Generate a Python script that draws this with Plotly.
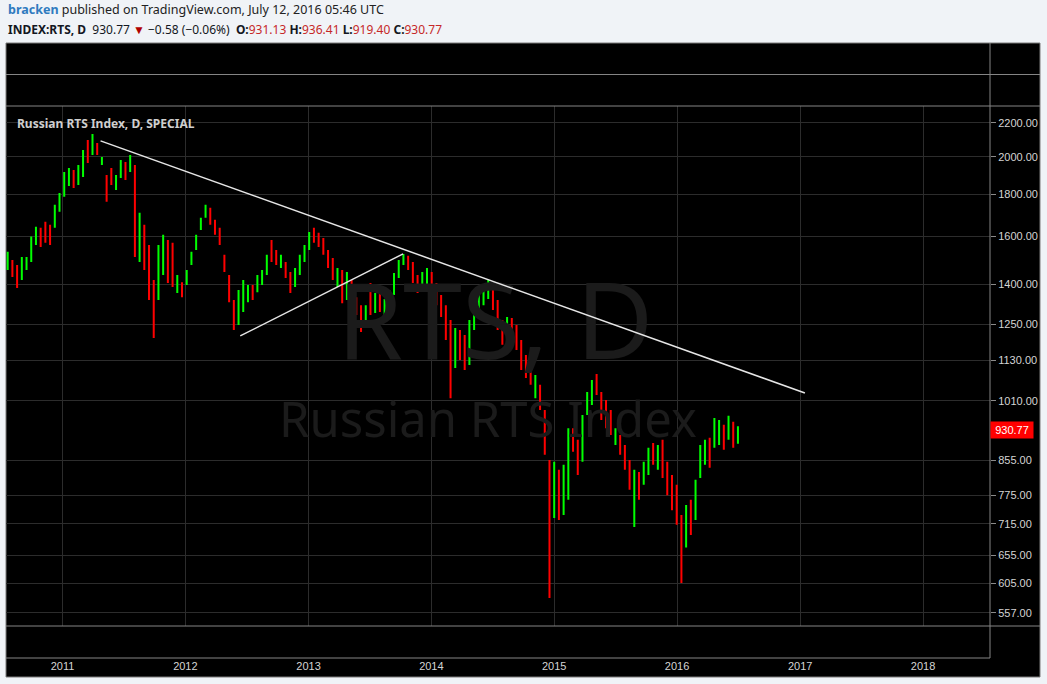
import math
import pandas as pd
import plotly.graph_objects as go

# ---------------- data ----------------
bar_start = "2010-07-22"
bar_step = "14D"

opens = [1475, 1485, 1457, 1440, 1469, 1516, 1581, 1621, 1649, 1635,
         1668, 1739, 1823, 1864, 1912, 1875, 1928, 2068, 2039, 2068,
         1966, 1875, 1917, 1838, 1906, 1950, 1939, 1939, 1541, 1630,
         1541, 1377, 1377, 1477, 1563, 1541, 1381, 1397, 1408, 1490,
         1559, 1645, 1701, 1720, 1663, 1626, 1507, 1416, 1320, 1273,
         1320, 1346, 1385, 1385, 1408, 1457, 1567, 1529, 1477, 1477,
         1432, 1405, 1457, 1507, 1559, 1626, 1603, 1581, 1524, 1490,
         1405, 1432, 1362, 1397, 1339, 1302, 1270, 1377, 1305, 1354,
         1298, 1305, 1377, 1440, 1490, 1503, 1473, 1420, 1393, 1412,
         1432, 1389, 1343, 1295, 1231, 1132, 1211, 1191, 1148, 1256,
         1313, 1339, 1366, 1377, 1316, 1249, 1224, 1259, 1231, 1177,
         1132, 1104, 1035, 1041, 962, 832, 743, 813, 754, 798,
         922, 892, 868, 984, 1012, 1076, 1020, 998, 970, 902,
         907, 880, 841, 739, 815, 809, 834, 887, 844, 887,
         837, 804, 783, 713, 684, 750, 739, 832, 855, 897,
         900, 905, 930, 917, 938, 905]

highs = [1533, 1498, 1477, 1511, 1511, 1600, 1645, 1640, 1668, 1654,
         1749, 1808, 1917, 1939, 1928, 1955, 2039, 2097, 2133, 2080,
         2000, 1901, 1939, 1901, 1983, 1972, 2011, 1955, 1710, 1654,
         1563, 1416, 1563, 1608, 1585, 1572, 1436, 1408, 1457, 1533,
         1608, 1687, 1749, 1735, 1677, 1640, 1520, 1436, 1339, 1377,
         1416, 1397, 1397, 1436, 1457, 1520, 1585, 1541, 1520, 1490,
         1449, 1465, 1520, 1563, 1621, 1640, 1617, 1594, 1541, 1507,
         1465, 1457, 1449, 1416, 1350, 1320, 1320, 1405, 1366, 1369,
         1343, 1377, 1445, 1498, 1524, 1516, 1490, 1436, 1449, 1465,
         1449, 1405, 1358, 1320, 1266, 1238, 1231, 1214, 1266, 1339,
         1377, 1397, 1416, 1397, 1339, 1266, 1277, 1273, 1249, 1197,
         1148, 1116, 1085, 1056, 984, 855, 851, 832, 844, 935,
         935, 905, 970, 1035, 1070, 1088, 1035, 1012, 984, 935,
         917, 892, 855, 832, 827, 851, 885, 897, 892, 905,
         851, 820, 798, 733, 754, 765, 809, 892, 905, 910,
         962, 957, 944, 968, 952, 940]

lows = [1457, 1428, 1385, 1416, 1457, 1490, 1563, 1554, 1572, 1563,
        1640, 1715, 1789, 1844, 1833, 1849, 1891, 1966, 2011, 2011,
        1955, 1764, 1849, 1823, 1886, 1875, 1917, 1511, 1490, 1457,
        1339, 1204, 1339, 1436, 1405, 1389, 1366, 1350, 1397, 1477,
        1541, 1630, 1687, 1654, 1608, 1563, 1449, 1331, 1231, 1249,
        1295, 1331, 1339, 1369, 1397, 1436, 1490, 1477, 1465, 1424,
        1366, 1389, 1436, 1490, 1541, 1572, 1554, 1520, 1465, 1416,
        1389, 1327, 1339, 1320, 1284, 1224, 1256, 1284, 1291, 1295,
        1284, 1284, 1358, 1424, 1477, 1457, 1405, 1366, 1377, 1397,
        1369, 1320, 1277, 1197, 1017, 1107, 1132, 1101, 1116, 1231,
        1295, 1320, 1343, 1302, 1231, 1181, 1207, 1197, 1164, 1101,
        1076, 1056, 1017, 984, 868, 581, 727, 723, 733, 765,
        875, 820, 851, 970, 998, 1026, 957, 935, 917, 892,
        868, 832, 787, 709, 765, 798, 820, 844, 832, 813,
        775, 743, 713, 606, 669, 693, 723, 813, 844, 837,
        885, 892, 880, 905, 885, 895]

closes = [1518, 1445, 1408, 1490, 1498, 1576, 1626, 1572, 1594, 1585,
          1730, 1789, 1891, 1917, 1854, 1933, 2011, 1994, 2109, 2028,
          1989, 1789, 1864, 1886, 1961, 1896, 1989, 1563, 1677, 1490,
          1377, 1249, 1520, 1585, 1436, 1416, 1420, 1362, 1445, 1520,
          1594, 1677, 1739, 1673, 1621, 1581, 1465, 1358, 1256, 1354,
          1393, 1385, 1354, 1424, 1445, 1503, 1511, 1490, 1507, 1440,
          1385, 1449, 1503, 1550, 1603, 1585, 1567, 1537, 1481, 1436,
          1449, 1354, 1428, 1343, 1298, 1249, 1309, 1309, 1350, 1313,
          1335, 1358, 1428, 1481, 1516, 1469, 1424, 1381, 1432, 1453,
          1389, 1339, 1295, 1224, 1076, 1211, 1158, 1126, 1238, 1316,
          1358, 1381, 1401, 1324, 1256, 1200, 1263, 1214, 1184, 1126,
          1095, 1070, 1070, 1001, 892, 754, 832, 743, 820, 905,
          887, 837, 952, 1023, 1056, 1041, 973, 952, 930, 925,
          877, 846, 802, 813, 778, 841, 873, 855, 880, 832,
          791, 760, 733, 647, 739, 709, 791, 875, 892, 851,
          946, 944, 892, 954, 900, 930.77]

dates = pd.date_range(bar_start, periods=len(closes), freq=bar_step)

last_close = 930.77
price_ticks = [557, 605, 655, 715, 775, 855, 1010, 1130, 1250, 1400, 1600, 1800, 2000, 2200]
year_ticks = [2011, 2012, 2013, 2014, 2015, 2016, 2017, 2018]

upper_trend_dates = ["2011-04-24", "2017-01-15"]
upper_trend_values = [2092, 1032]
lower_trend_dates = ["2012-06-12", "2013-10-09"]
lower_trend_values = [1211, 1524]

# ---------------- styling / layout constants ----------------
BG_PAGE = "#f0f3f7"
GRID = "#2c2c2c"
DIVIDER = "#858585"
TICKFONT = dict(family="Liberation Sans, Arial, sans-serif", size=11, color="#d4d4d4")
X_RANGE = ["2010-07-17", "2018-07-19"]
Y_RANGE = [math.log10(537), math.log10(2307)]

D_BOTTOM = 32 / 615
D_MAIN_TOP = 552 / 615
D_P2_TOP = 583.5 / 615

fig = go.Figure()

# watermark (drawn first so that bars sit on top of it)
fig.add_trace(go.Scatter(x=["2014-07-10"], y=[1222], mode="text", text=["RTS, D"],
                         textfont=dict(family="Noto Sans", size=106, color="#1b1b1b"),
                         hoverinfo="skip", showlegend=False))
fig.add_trace(go.Scatter(x=["2014-06-18"], y=[944], mode="text", text=["Russian RTS Index"],
                         textfont=dict(family="Noto Sans", size=49, color="#1b1b1b"),
                         hoverinfo="skip", showlegend=False))

fig.add_trace(go.Ohlc(
    x=dates, open=opens, high=highs, low=lows, close=closes,
    increasing=dict(line=dict(color="#00ff00", width=2)),
    decreasing=dict(line=dict(color="#ff0000", width=2)),
    tickwidth=0.2, hoverinfo="skip", showlegend=False,
))

for dx, vy in ((upper_trend_dates, upper_trend_values), (lower_trend_dates, lower_trend_values)):
    fig.add_trace(go.Scatter(x=dx, y=vy, mode="lines",
                             line=dict(color="#e6e6e6", width=1.5),
                             hoverinfo="skip", showlegend=False))

year_vals = [f"{y}-01-01" for y in year_ticks]

common_x = dict(type="date", range=X_RANGE, showgrid=True, gridcolor=GRID, gridwidth=1,
                zeroline=False, showline=False, tickvals=year_vals, ticks="")

fig.update_layout(
    width=1047, height=684,
    margin=dict(l=6, r=57, t=43, b=26, pad=0),
    paper_bgcolor=BG_PAGE, plot_bgcolor="#000000",
    showlegend=False, hovermode=False,
    xaxis=dict(**common_x, domain=[0, 1], anchor="free", position=0,
               ticktext=[str(y) for y in year_ticks], tickfont=TICKFONT,
               rangeslider=dict(visible=False)),
    yaxis=dict(domain=[D_BOTTOM, D_MAIN_TOP], type="log", range=Y_RANGE, side="right",
               anchor="x", tickvals=price_ticks, ticktext=[f"{v:.2f}" for v in price_ticks],
               showgrid=True, gridcolor=GRID, zeroline=False, ticks="outside", ticklen=5,
               tickcolor="#8a8a8a", tickfont=TICKFONT, showline=False),
    xaxis2=dict(**common_x, matches="x", anchor="y2", showticklabels=False),
    yaxis2=dict(domain=[0, D_BOTTOM], anchor="x2", range=[-1, 1], side="right",
                tickvals=[0], ticktext=["0.00"], showgrid=True, gridcolor=GRID, zeroline=False,
                ticks="outside", ticklen=5, tickcolor="#8a8a8a", tickfont=TICKFONT),
    xaxis3=dict(**common_x, matches="x", anchor="y3", showticklabels=False),
    yaxis3=dict(domain=[D_MAIN_TOP, D_P2_TOP], anchor="x3", range=[-1, 1], side="right",
                tickvals=[0], ticktext=["0.00"], showgrid=True, gridcolor=GRID, zeroline=False,
                ticks="outside", ticklen=5, tickcolor="#8a8a8a", tickfont=TICKFONT),
    xaxis4=dict(**common_x, matches="x", anchor="y4", showticklabels=False),
    yaxis4=dict(domain=[D_P2_TOP, 1], anchor="x4", range=[-1, 1], side="right",
                tickvals=[0], ticktext=["0.00"], showgrid=True, gridcolor=GRID, zeroline=False,
                ticks="outside", ticklen=5, tickcolor="#8a8a8a", tickfont=TICKFONT),
)

RIGHT_EDGE = (1040 - 6) / 984
BOTTOM_EDGE = (658 - 677) / 615

shapes = [
    dict(type="rect", xref="paper", yref="paper", x0=0, x1=RIGHT_EDGE, y0=BOTTOM_EDGE, y1=1,
         fillcolor="#000000", line=dict(color="#7a7a7a", width=1), layer="below"),
]
for yp in (D_P2_TOP, D_MAIN_TOP, D_BOTTOM):
    shapes.append(dict(type="line", xref="paper", yref="paper", x0=0, x1=RIGHT_EDGE, y0=yp, y1=yp,
                       line=dict(color=DIVIDER, width=1), layer="above"))
shapes.append(dict(type="line", xref="paper", yref="paper", x0=0, x1=1, y0=0, y1=0,
                   line=dict(color=DIVIDER, width=1), layer="above"))
shapes.append(dict(type="line", xref="paper", yref="paper", x0=1, x1=1, y0=0, y1=1,
                   line=dict(color=DIVIDER, width=1), layer="above"))
shapes.append(dict(type="line", xref="paper", yref="y", x0=0, x1=1,
                   y0=math.log10(last_close), y1=math.log10(last_close),
                   line=dict(color="#ff2020", width=1, dash="dot"), layer="above"))
fig.update_layout(shapes=shapes)

RED = "#c62828"
header1 = ("<span style='color:#2f7bbf'><b>bracken</b></span> published on TradingView.com, "
           "July 12, 2016 05:46 UTC")
header2 = ("<b>INDEX:RTS, D</b>&nbsp; 930.77 <span style='color:#b00000'>▼</span> \u22120.58 (\u22120.06%)&nbsp; "
           f"<b>O:</b><span style='color:{RED}'>931.13</span> "
           f"<b>H:</b><span style='color:{RED}'>936.41</span> "
           f"<b>L:</b><span style='color:{RED}'>919.40</span> "
           f"<b>C:</b><span style='color:{RED}'>930.77</span>")

fig.add_annotation(xref="paper", yref="paper", x=0, y=(658 - 10) / 615, xanchor="left", yanchor="middle",
                   text=header1, showarrow=False,
                   font=dict(family="Noto Sans", size=12.5, color="#222222"))
fig.add_annotation(xref="paper", yref="paper", x=0, y=(658 - 29) / 615, xanchor="left", yanchor="middle",
                   text=header2, showarrow=False,
                   font=dict(family="Noto Sans", size=12, color="#131722"))
fig.add_annotation(xref="paper", yref="paper", x=(15 - 6) / 984, y=(658 - 123) / 615,
                   xanchor="left", yanchor="middle", text="<b>Russian RTS Index, D, SPECIAL</b>",
                   showarrow=False, font=dict(family="Noto Sans", size=12, color="#cfcfcf"))
fig.add_annotation(xref="paper", yref="y", x=1.0, y=math.log10(last_close), xanchor="left",
                   yanchor="middle", text="930.77", showarrow=False, bgcolor="#ff0000",
                   width=40, height=14, borderpad=1,
                   font=dict(family="Liberation Sans, Arial, sans-serif", size=11, color="#ffffff"))

fig.write_html("out.html", config={"displayModeBar": False},
               post_script="document.body.style.margin='0';document.body.style.overflow='hidden';")
